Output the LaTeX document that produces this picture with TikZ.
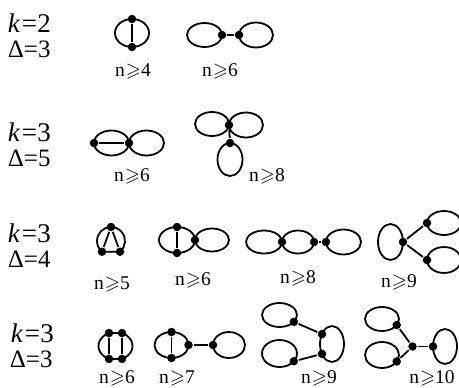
\documentclass[tikz,border=0pt]{standalone}
\usepackage{fontspec}
\usepackage{amssymb}
\setmainfont{Liberation Serif}
\newcommand{\nge}{\kern1pt$\geqslant$}
\newcommand{\eqk}{\kern1.5pt=\kern0.5pt}
\begin{document}
\begin{tikzpicture}[x=1pt,y=-1pt, line width=1.8pt,
  v/.style={circle,fill,inner sep=0pt,minimum size=8.5pt},
  lbl/.style={inner sep=0pt, anchor=base, font=\fontsize{19.5}{19.5}\selectfont},
  kl/.style={inner sep=0pt, anchor=base west, text depth=0pt, text height=18pt, font=\fontsize{27}{27}\selectfont},
  dl/.style={inner sep=0pt, anchor=base west, text depth=0pt, text height=16.5pt, font=\fontsize{25}{25}\selectfont}]
\useasboundingbox (0,0) rectangle (459,388);
% ---------- row labels
\node[kl] (k1) at (7,32) {\textit{k}\eqk 2};
\node[dl] (d1) at (7,57) {Δ=3};
\node[kl] (k2) at (7,141.5) {\textit{k}\eqk 3};
\node[dl] (d2) at (7,166.5) {Δ=5};
\node[kl] (k3) at (7,242) {\textit{k}\eqk 3};
\node[dl] (d3) at (7,267) {Δ=4};
\node[kl] (k4) at (10,342.5) {\textit{k}\eqk 3};
\node[dl] (d4) at (9,367.5) {Δ=3};
% ---------- row 1
\draw (132,33) ellipse [x radius=17pt, y radius=14pt];
\node[v] (A1) at (132,19) {};
\node[v] (A2) at (132,47) {};
\draw (A1) -- (A2);
\node[lbl] (lA) at (133,76) {n\nge4};

\draw (204.5,35) ellipse [x radius=17.5pt, y radius=12pt];
\draw (256,35) ellipse [x radius=17pt, y radius=12.5pt];
\node[v] (B1) at (222,35) {};
\node[v] (B2) at (239,35) {};
\draw (B1) -- (B2);
\node[lbl] (lB) at (220,76) {n\nge6};
% ---------- row 2
\draw (111.5,143) ellipse [x radius=17.5pt, y radius=12.5pt];
\draw (146.5,143) ellipse [x radius=17.5pt, y radius=12.5pt];
\node[v] (C1) at (94,143) {};
\node[v] (C2) at (129,143) {};
\draw (C1) -- (C2);
\node[lbl] (lC) at (132,181) {n\nge6};

\draw (212,124) ellipse [x radius=17pt, y radius=12pt];
\draw (246,125) ellipse [x radius=17pt, y radius=12.5pt];
\draw (230,159.5) ellipse [x radius=12.5pt, y radius=16.5pt];
\node[v] (D1) at (229,125) {};
\node[v] (D2) at (230,143) {};
\draw (D1) -- (D2);
\node[lbl] (lD) at (267,181) {n\nge8};
% ---------- row 3
\node[v] (E1) at (111,227) {};
\node[v] (E2) at (102,251.72) {};
\node[v] (E3) at (120,251.72) {};
\draw (E1.center) arc[start angle=90, end angle=230, radius=14pt] -- (E3.center)
      arc[start angle=-50, end angle=90, radius=14pt];
\draw (E1) -- (E2);
\draw (E1) -- (E3);
\node[lbl] (lE) at (112,289) {n\nge5};

\draw (177,240) ellipse [x radius=18pt, y radius=13pt];
\draw (212,240) ellipse [x radius=17pt, y radius=11.5pt];
\node[v] (F1) at (177,227) {};
\node[v] (F2) at (177,253) {};
\node[v] (F3) at (195,240) {};
\draw (F1) -- (F2);
\node[lbl] (lF) at (193,285) {n\nge6};

\draw (264,242) ellipse [x radius=18pt, y radius=11.5pt];
\draw (298,242) ellipse [x radius=16pt, y radius=11.5pt];
\draw (343.5,242) ellipse [x radius=17.5pt, y radius=12.5pt];
\node[v] (G1) at (282,242) {};
\node[v] (G2) at (314,242) {};
\node[v] (G3) at (326,242) {};
\draw (G2) -- (G3);
\node[lbl] (lG) at (298,283) {n\nge8};

\draw (390.5,242) ellipse [x radius=12.5pt, y radius=18pt];
\draw (444,223) ellipse [x radius=17pt, y radius=12pt];
\draw (444,260) ellipse [x radius=17pt, y radius=13pt];
\node[v] (H0) at (403,242) {};
\node[v] (H1) at (427,223) {};
\node[v] (H2) at (427,260) {};
\draw (H0) -- (H1);
\draw (H0) -- (H2);
\node[lbl] (lH) at (399,287) {n\nge9};
% ---------- row 4
\node[v] (I1) at (108.99,333.07) {};
\node[v] (I2) at (122.01,333.07) {};
\node[v] (I3) at (108.99,358.93) {};
\node[v] (I4) at (122.01,358.93) {};
\draw (I1.center) arc[start angle=112.5, end angle=247.5, x radius=17pt, y radius=14pt]
      -- (I4.center) arc[start angle=-67.5, end angle=67.5, x radius=17pt, y radius=14pt] -- cycle;
\draw (I1) -- (I3);
\draw (I2) -- (I4);
\node[lbl] (lI) at (117,383.5) {n\nge6};

\draw (171.5,345) ellipse [x radius=17pt, y radius=13pt];
\draw (229,345) ellipse [x radius=16pt, y radius=13pt];
\node[v] (J1) at (171.5,332) {};
\node[v] (J2) at (171.5,358) {};
\node[v] (J3) at (188.5,345) {};
\node[v] (J4) at (213,345) {};
\draw (J1) -- (J2);
\draw (J3) -- (J4);
\node[lbl] (lJ) at (177,383.5) {n\nge7};

\draw (279.5,315) ellipse [x radius=17.5pt, y radius=12pt];
\draw (279.5,353.5) ellipse [x radius=17.5pt, y radius=13.5pt];
\draw (332,344) ellipse [x radius=12pt, y radius=18pt];
\node[v] (K1) at (293.84,321.88) {};
\node[v] (K2) at (293.84,361.24) {};
\node[v] (K3) at (322,334.05) {};
\node[v] (K4) at (322,353.95) {};
\draw (K1) -- (K3);
\draw (K2) -- (K4);
\node[lbl] (lK) at (319,383.5) {n\nge9};

\draw (382,319) ellipse [x radius=17pt, y radius=12pt];
\draw (382,355) ellipse [x radius=17pt, y radius=13pt];
\draw (445,346.5) ellipse [x radius=12pt, y radius=17.5pt];
\node[v] (L0) at (412.5,346.5) {};
\node[v] (L1) at (396.72,325) {};
\node[v] (L2) at (396.72,361.5) {};
\node[v] (L3) at (433,346.5) {};
\draw (L0) -- (L1);
\draw (L0) -- (L2);
\draw (L0) -- (L3);
\node[lbl] (lL) at (432,383.5) {n\nge10};
\end{tikzpicture}
\end{document}
